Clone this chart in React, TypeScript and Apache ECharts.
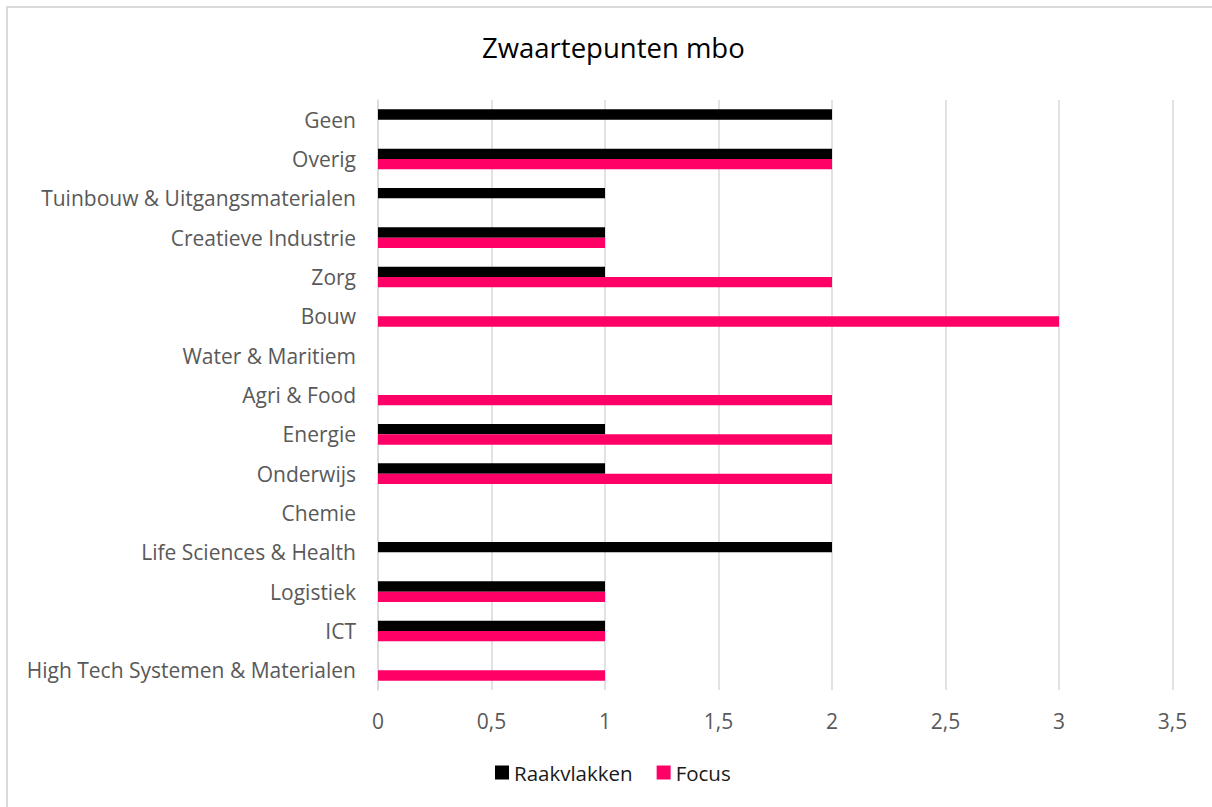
import React, { useEffect, useRef } from "react";
import * as echarts from "echarts";

const categories = [
  "High Tech Systemen & Materialen",
  "ICT",
  "Logistiek",
  "Life Sciences & Health",
  "Chemie",
  "Onderwijs",
  "Energie",
  "Agri & Food",
  "Water & Maritiem",
  "Bouw",
  "Zorg",
  "Creatieve Industrie",
  "Tuinbouw & Uitgangsmaterialen",
  "Overig",
  "Geen",
];
const raakvlakken = [0, 1, 1, 2, 0, 1, 1, 0, 0, 0, 1, 1, 1, 2, 2];
const focus = [1, 1, 1, 0, 0, 2, 2, 2, 0, 3, 2, 1, 0, 2, 0];

const FONT = "'Open Sans', sans-serif";

export default function App() {
  const ref = useRef<HTMLDivElement>(null);
  useEffect(() => {
    if (!ref.current) return;
    const chart = echarts.init(ref.current, null, { renderer: "svg" });
    chart.setOption({
      animation: false,
      backgroundColor: "#fff",
      title: {
        text: "Zwaartepunten mbo",
        left: 477,
        top: 28,
        textStyle: { fontFamily: FONT, fontSize: 27.5, fontWeight: "normal", color: "#000" },
      },
      graphic: [
        {
          type: "rect",
          shape: { x: 7, y: 7, width: 1220, height: 810 },
          style: { fill: "none", stroke: "#d9d9d9", lineWidth: 2 },
          silent: true,
        },
      ],
      legend: {
        bottom: 19,
        left: 490,
        itemWidth: 14,
        itemHeight: 14,
        itemGap: 24,
        icon: "rect",
        textStyle: { fontFamily: FONT, fontSize: 20.5, color: "#1a1a1a" },
        data: ["Raakvlakken", "Focus"],
      },
      grid: { left: 378, right: 39.5, top: 100, bottom: 117, containLabel: false },
      xAxis: {
        type: "value",
        min: 0,
        max: 3.5,
        interval: 0.5,
        axisLine: { show: false },
        axisTick: { show: false },
        splitLine: { lineStyle: { color: "#d9d9d9", width: 1.5 } },
        axisLabel: {
          margin: 20,
          fontFamily: FONT,
          fontSize: 21,
          color: "#595959",
          formatter: (v: number) => String(v).replace(".", ","),
        },
      },
      yAxis: {
        type: "category",
        data: categories,
        axisLine: { show: true, lineStyle: { color: "#d9d9d9", width: 1.5 } },
        axisTick: { show: false },
        axisLabel: { margin: 22, fontFamily: FONT, fontSize: 21, color: "#595959" },
      },
      series: [
        {
          name: "Raakvlakken",
          type: "bar",
          data: raakvlakken,
          itemStyle: { color: "#000000" },
          barCategoryGap: "47.5%",
          barGap: "0%",
        },
        {
          name: "Focus",
          type: "bar",
          data: focus,
          itemStyle: { color: "#FF0066" },
          barCategoryGap: "47.5%",
          barGap: "0%",
        },
      ],
    });
    return () => chart.dispose();
  }, []);
  return (
    <div
      ref={ref}
      style={{ position: "absolute", left: 0, top: 0, width: 1212, height: 807 }}
    />
  );
}
